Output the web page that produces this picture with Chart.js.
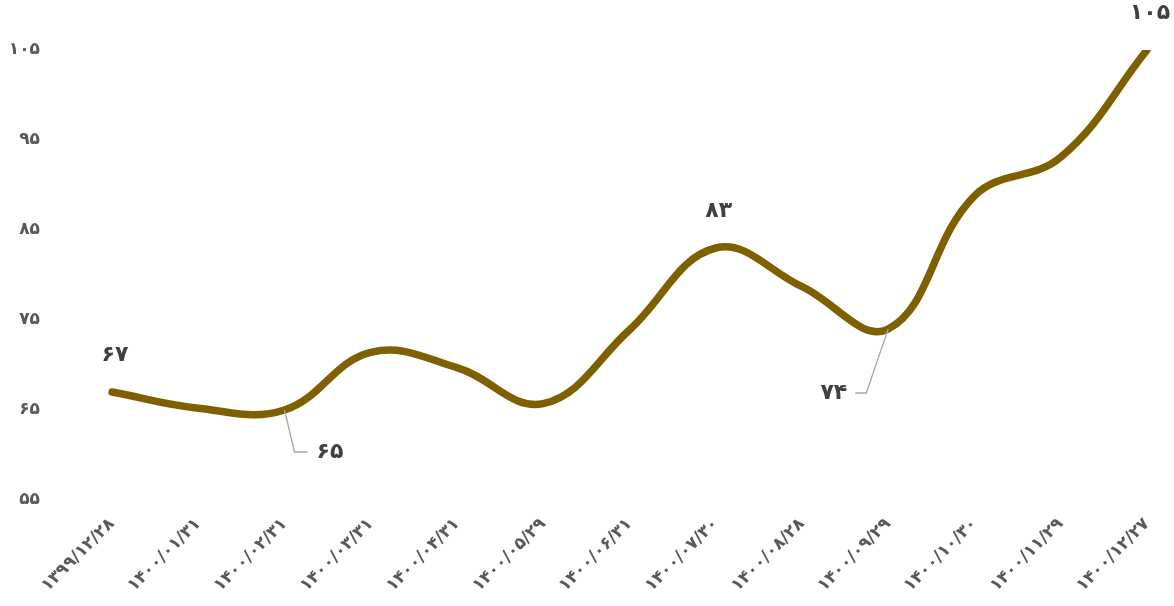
<!DOCTYPE html>
<html lang="fa">
<head>
<meta charset="utf-8">
<script src="https://cdn.jsdelivr.net/npm/chart.js@4.4.1/dist/chart.umd.min.js"></script>
<style>
  html, body { margin: 0; padding: 0; background: #ffffff; }
  #wrap { width: 1174px; height: 606px; position: relative; }
</style>
</head>
<body>
<div id="wrap"><canvas id="c"></canvas></div>
<script>
// Dates (Solar Hijri) along the horizontal axis
const categories = [
  '۱۳۹۹/۱۲/۲۸', '۱۴۰۰/۰۱/۳۱', '۱۴۰۰/۰۲/۳۱', '۱۴۰۰/۰۳/۳۱', '۱۴۰۰/۰۴/۳۱',
  '۱۴۰۰/۰۵/۲۹', '۱۴۰۰/۰۶/۳۱', '۱۴۰۰/۰۷/۳۰', '۱۴۰۰/۰۸/۲۸', '۱۴۰۰/۰۹/۲۹',
  '۱۴۰۰/۱۰/۳۰', '۱۴۰۰/۱۱/۲۹', '۱۴۰۰/۱۲/۲۷'
];
// Series values
const values = [67, 65.2, 65, 71.4, 69.7, 65.7, 73.9, 83, 78.7, 74, 88.8, 93.1, 105];
// Vertical axis ticks
const yTicks = [55, 65, 75, 85, 95, 105];
// Points that carry a value label, and how each label sits
const labelledPoints = [
  { index: 0,  place: 'above' },
  { index: 2,  place: 'leaderRight' },
  { index: 7,  place: 'above' },
  { index: 9,  place: 'leaderLeft' },
  { index: 12, place: 'above' }
];

const faDigits = '۰۱۲۳۴۵۶۷۸۹';
const toFa = n => String(n).replace(/\d/g, d => faDigits[d]);

const FONT = "'DejaVu Sans', 'Noto Sans', sans-serif";

// Fixed axis boxes so the plot area keeps a steady frame
const Y_AXIS_WIDTH = 112;
const X_AXIS_HEIGHT = 106;
const clearPadding = s => { s.paddingLeft = 0; s.paddingRight = 0; s.paddingTop = 0; s.paddingBottom = 0; };

const valueLabels = {
  id: 'valueLabels',
  afterDatasetsDraw(chart) {
    const ctx = chart.ctx;
    const meta = chart.getDatasetMeta(0);
    ctx.save();
    ctx.font = 'bold 22px ' + FONT;
    ctx.fillStyle = '#404040';
    ctx.textBaseline = 'middle';
    labelledPoints.forEach(p => {
      const pt = meta.data[p.index];
      const txt = toFa(Math.round(values[p.index]));
      if (p.place === 'above') {
        ctx.textAlign = 'center';
        ctx.fillText(txt, pt.x + 3, pt.y - 37);
      } else {
        const right = p.place === 'leaderRight';
        const dy = right ? 42 : 64;
        const ex = right ? pt.x + 10 : pt.x - 22;
        const hx = right ? ex + 13 : ex - 11;
        ctx.strokeStyle = '#a6a6a6';
        ctx.lineWidth = 1.3;
        ctx.beginPath();
        ctx.moveTo(pt.x, pt.y);
        ctx.lineTo(ex, pt.y + dy);
        ctx.lineTo(hx, pt.y + dy);
        ctx.stroke();
        ctx.textAlign = right ? 'left' : 'right';
        ctx.fillText(txt, right ? hx + 9 : hx - 8, pt.y + dy);
      }
    });
    ctx.restore();
  }
};

new Chart(document.getElementById('c'), {
  type: 'line',
  data: {
    labels: categories,
    datasets: [{
      data: values,
      borderColor: '#7f6000',
      borderWidth: 7.5,
      borderCapStyle: 'round',
      borderJoinStyle: 'round',
      tension: 0.4,
      pointRadius: 0,
      pointHoverRadius: 0,
      fill: false
    }]
  },
  options: {
    responsive: true,
    maintainAspectRatio: false,
    animation: false,
    events: [],
    layout: { padding: { top: 50, right: 27, left: 0, bottom: 0 } },
    plugins: { legend: { display: false }, tooltip: { enabled: false } },
    scales: {
      x: {
        offset: false,
        grid: { display: false, drawTicks: false },
        border: { display: false },
        afterFit(scale) { scale.height = X_AXIS_HEIGHT; clearPadding(scale); },
        ticks: {
          color: '#595959',
          font: { family: FONT, size: 17, weight: 'bold' },
          maxRotation: 45,
          minRotation: 45,
          autoSkip: false,
          padding: 14
        }
      },
      y: {
        min: 55,
        max: 105,
        afterBuildTicks(axis) { axis.ticks = yTicks.map(v => ({ value: v })); },
        afterFit(scale) { scale.width = Y_AXIS_WIDTH; clearPadding(scale); },
        grid: { display: false, drawTicks: false },
        border: { display: false },
        ticks: {
          color: '#595959',
          font: { family: FONT, size: 17, weight: 'bold' },
          padding: 72,
          callback: v => toFa(v)
        }
      }
    }
  },
  plugins: [valueLabels]
});
</script>
</body>
</html>
